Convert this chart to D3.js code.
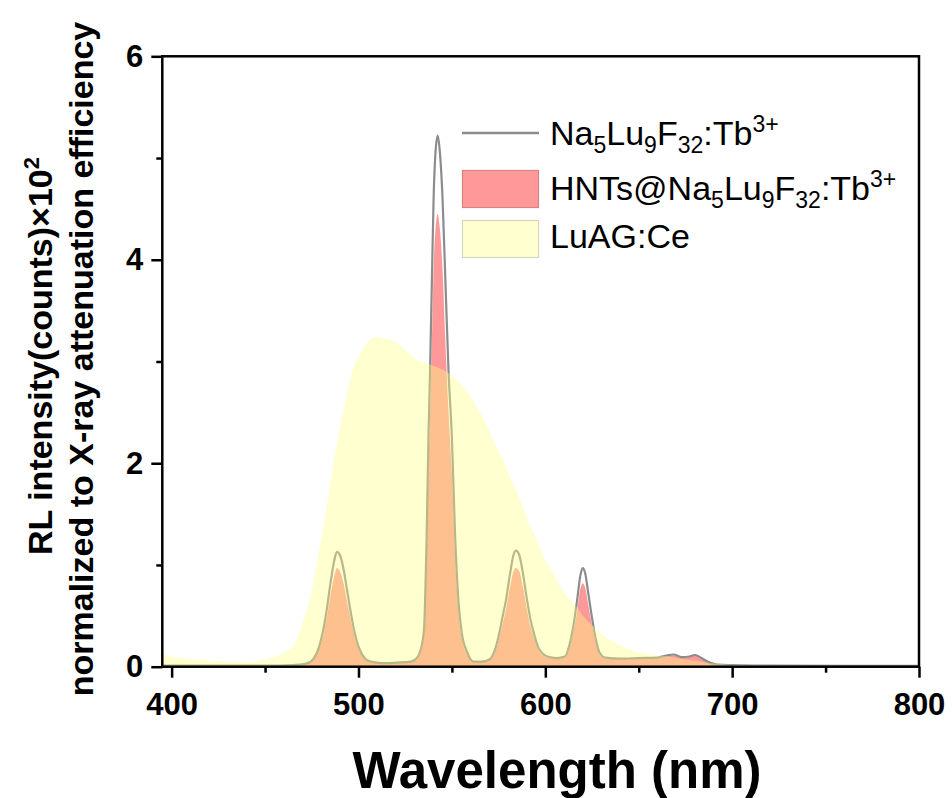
<!DOCTYPE html>
<html><head><meta charset="utf-8">
<script src="https://cdn.jsdelivr.net/npm/d3@7"></script>
<style>body{margin:0;background:#fff;} svg{display:block;font-family:"Liberation Sans",Arial,sans-serif;}</style>
</head><body><svg id="c" width="952" height="798"></svg>
<script>
// ---- data ----
const tbWavelength = [395,420,450,465,472,476,479,481,483,485,487,488.5,490,492,494,496,498,500,502,505,510,515,520,528,531,533,535,536.5,537.5,538.3,539.3,540.2,541.2,542.4,543.6,545,546.5,548.2,550,551.7,553.5,555.3,558,561.5,566,570,572.5,575,577,579,581,583,584.3,586,588,590,592,594,596,598,601,606,610.5,613,615,617,618.8,620,621.3,623,625,627,629,632,640,650,660,665,668.5,673,677,680,684,688,692,700,720,760,800];
const naLuTb = [0.01,0.01,0.01,0.015,0.03,0.08,0.2,0.35,0.56,0.82,1.04,1.13,1.1,0.96,0.74,0.52,0.33,0.2,0.12,0.06,0.04,0.035,0.04,0.05,0.08,0.15,0.35,1.3,2.3,2.9,3.8,4.6,5.05,5.22,5.05,4.6,3.8,2.9,2.25,1.3,0.65,0.33,0.15,0.05,0.05,0.07,0.14,0.3,0.48,0.66,0.9,1.1,1.14,1.1,0.92,0.68,0.47,0.32,0.2,0.14,0.1,0.085,0.1,0.22,0.4,0.65,0.9,0.97,0.92,0.72,0.48,0.27,0.14,0.09,0.08,0.085,0.09,0.11,0.12,0.095,0.1,0.115,0.08,0.04,0.02,0.015,0.01,0.008,0.008];
const hntsNaLuTb = [0.01,0.01,0.01,0.015,0.03,0.07,0.17,0.3,0.48,0.7,0.89,0.97,0.94,0.82,0.63,0.45,0.29,0.18,0.11,0.06,0.04,0.035,0.04,0.05,0.07,0.13,0.3,1.1,1.95,2.5,3.2,3.9,4.3,4.45,4.3,3.9,3.2,2.5,1.9,1.1,0.55,0.28,0.13,0.05,0.05,0.07,0.12,0.26,0.41,0.57,0.77,0.94,0.97,0.94,0.79,0.58,0.4,0.28,0.18,0.12,0.09,0.08,0.09,0.19,0.34,0.55,0.77,0.82,0.78,0.61,0.41,0.23,0.12,0.08,0.075,0.08,0.085,0.1,0.11,0.09,0.095,0.11,0.08,0.04,0.02,0.015,0.01,0.008,0.008];
const luagWavelength = [395,400,410,420,430,440,447,452,457,461,465,470,474,478,483,487,492,496,501,505,510,515,519,524,528,533,537,541,545,550,554,559,563,568,572,577,581,586,590,595,599,604,608,612,617,621,626,630,635,640,645,650,657,665,673,683,692,700,720,760,800];
const luagCe = [0.12,0.1,0.075,0.06,0.05,0.045,0.06,0.08,0.11,0.15,0.2,0.42,0.66,1.05,1.57,2.05,2.52,2.85,3.08,3.19,3.24,3.22,3.2,3.13,3.07,3.0,2.98,2.95,2.92,2.86,2.79,2.68,2.56,2.4,2.23,2.04,1.87,1.66,1.47,1.26,1.08,0.92,0.79,0.68,0.58,0.48,0.39,0.32,0.26,0.21,0.17,0.145,0.12,0.1,0.075,0.05,0.028,0.02,0.013,0.01,0.01];
const xTicks = [400,500,600,700,800];
const xMinorTicks = [450,550,650,750];
const yTicks = [0,2,4,6];
const yMinorTicks = [1,3,5];

// ---- layout ----
const L = 162.3, R = 919, T = 56.3, B = 666.7;
const svg = d3.select("#c");
const x = d3.scaleLinear().domain([395, 800]).range([L, R]);
const y = d3.scaleLinear().domain([0, 6]).range([B, T]);

svg.append("defs").append("clipPath").attr("id","clip")
  .append("rect").attr("x",L).attr("y",T).attr("width",R-L).attr("height",B-T);
const g = svg.append("g").attr("clip-path","url(#clip)");

const tbData = tbWavelength.map((w,i)=>({w, a:naLuTb[i], b:hntsNaLuTb[i]}));
const luData = luagWavelength.map((w,i)=>({w, v:luagCe[i]}));
const curve = d3.curveMonotoneX;

// HNTs filled area
g.append("path").datum(tbData)
  .attr("d", d3.area().curve(curve).x(d=>x(d.w)).y0(y(0)).y1(d=>y(d.b)))
  .attr("fill","#ff0000").attr("fill-opacity",0.4);
// Na5Lu9F32:Tb line
g.append("path").datum(tbData)
  .attr("d", d3.line().curve(curve).x(d=>x(d.w)).y(d=>y(d.a)))
  .attr("fill","none").attr("stroke","#8c8c8c").attr("stroke-width",2.2);
// LuAG:Ce area on top
g.append("path").datum(luData)
  .attr("d", d3.area().curve(curve).x(d=>x(d.w)).y0(y(0)).y1(d=>y(d.v)))
  .attr("fill","#ffff80").attr("fill-opacity",0.38);

// ---- axes ----
const fontTick = "bold 31px 'Liberation Sans', Arial, sans-serif";
const xAxis = svg.append("g").attr("transform",`translate(0,${B})`)
  .call(d3.axisBottom(x).tickValues(xTicks).tickFormat(d3.format("d")).tickSize(11).tickSizeOuter(0).tickPadding(15));
const xMinor = svg.append("g").attr("transform",`translate(0,${B})`)
  .call(d3.axisBottom(x).tickValues(xMinorTicks).tickSize(6).tickSizeOuter(0).tickFormat(""));
const yAxis = svg.append("g").attr("transform",`translate(${L},0)`)
  .call(d3.axisLeft(y).tickValues(yTicks).tickFormat(d3.format("d")).tickSize(11).tickSizeOuter(0).tickPadding(8));
const yMinor = svg.append("g").attr("transform",`translate(${L},0)`)
  .call(d3.axisLeft(y).tickValues(yMinorTicks).tickSize(6).tickSizeOuter(0).tickFormat(""));
[xAxis,xMinor,yAxis,yMinor].forEach(a=>{
  a.select(".domain").remove();
  a.selectAll(".tick line").attr("stroke","#000").attr("stroke-width",2.5);
  a.selectAll(".tick text").style("font",fontTick).attr("fill","#000");
});
// frame
svg.append("rect").attr("x",L).attr("y",T).attr("width",R-L).attr("height",B-T)
  .attr("fill","none").attr("stroke","#000").attr("stroke-width",2.5);

// ---- axis titles ----
svg.append("text").attr("x",557).attr("y",788).attr("text-anchor","middle")
  .style("font","bold 51px 'Liberation Sans', Arial, sans-serif").text("Wavelength (nm)");
const yt1 = svg.append("text").attr("transform","translate(52,356) rotate(-90)").attr("text-anchor","middle")
  .style("font","bold 34px 'Liberation Sans', Arial, sans-serif");
yt1.append("tspan").text("RL intensity(counts)×10");
yt1.append("tspan").attr("dy",-13).style("font-size","22px").text("2");
svg.append("text").attr("transform","translate(93,359) rotate(-90)").attr("text-anchor","middle")
  .style("font","bold 34px 'Liberation Sans', Arial, sans-serif")
  .text("normalized to X-ray attenuation efficiency");

// ---- legend ----
const lg = svg.append("g").style("font","34px 'Liberation Sans', Arial, sans-serif");
lg.append("line").attr("x1",462).attr("x2",539).attr("y1",133).attr("y2",133)
  .attr("stroke","#8c8c8c").attr("stroke-width",2.5);
lg.append("rect").attr("x",462.5).attr("y",170.5).attr("width",76).attr("height",37)
  .attr("fill","#ff0000").attr("fill-opacity",0.4).attr("stroke","#d98080").attr("stroke-width",1.2);
lg.append("rect").attr("x",462.5).attr("y",220.5).attr("width",76).attr("height",37)
  .attr("fill","#ffff80").attr("fill-opacity",0.38).attr("stroke","#d6d6bc").attr("stroke-width",1.2);

function chem(parent, xPos, yPos, parts){
  const t = parent.append("text").attr("x",xPos).attr("y",yPos);
  let shift = 0;
  parts.forEach(p=>{
    const s = t.append("tspan");
    let target = 0;
    if (p[1]==="sub") target = 8; else if (p[1]==="sup") target = -13;
    s.attr("dy", target - shift); shift = target;
    if (p[1]) s.style("font-size","23px");
    s.text(p[0]);
  });
  return t;
}
chem(lg, 550, 145, [["Na"],["5","sub"],["Lu"],["9","sub"],["F"],["32","sub"],[":Tb"],["3+","sup"]]);
chem(lg, 550, 200, [["HNTs@Na"],["5","sub"],["Lu"],["9","sub"],["F"],["32","sub"],[":Tb"],["3+","sup"]]);
chem(lg, 550, 248, [["LuAG:Ce"]]);
</script>
</body></html>
